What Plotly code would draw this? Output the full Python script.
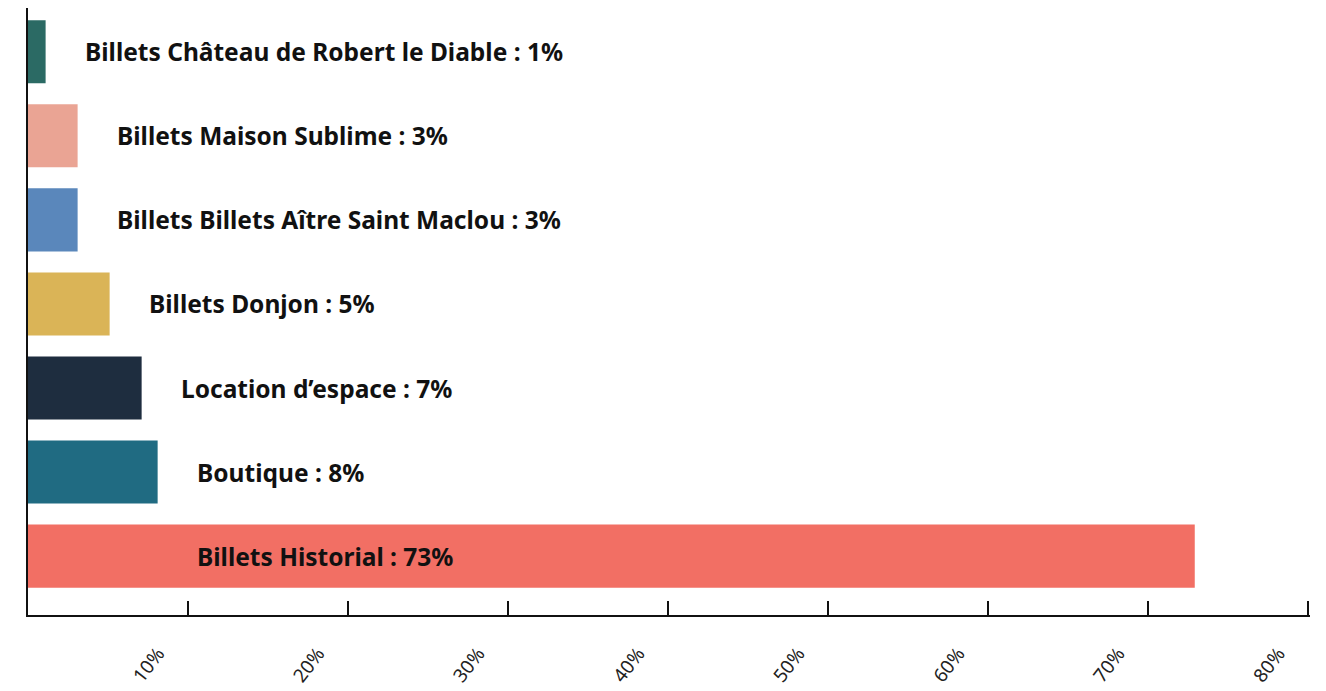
import plotly.graph_objects as go

# ---------------- Data ----------------
categories = [
    "Billets Historial",
    "Boutique",
    "Location d’espace",
    "Billets Donjon",
    "Billets Billets Aître Saint Maclou",
    "Billets Maison Sublime",
    "Billets Château de Robert le Diable",
]
shares = [72.9, 8.1, 7.1, 5.1, 3.1, 3.1, 1.1]
shown = [73, 8, 7, 5, 3, 3, 1]
colors = ["#f26f64", "#206b82", "#1e2d3f", "#dab457", "#5a87bb", "#eaa494", "#2b6a64"]
tick_values = [10, 20, 30, 40, 50, 60, 70, 80]
tick_labels = ["10%", "20%", "30%", "40%", "50%", "60%", "70%", "80%"]

fig = go.Figure(
    go.Bar(
        x=shares,
        y=categories,
        orientation="h",
        marker=dict(color=colors, line=dict(width=0)),
        hoverinfo="skip",
    )
)

# labels sit just past the bar end, capped at the Boutique bar
cap = shares[1]
for cat, v, n in zip(categories, shares, shown):
    fig.add_annotation(
        x=min(v, cap),
        y=cat,
        text=f"<b>{cat} : {n}%</b>",
        showarrow=False,
        xanchor="left",
        xshift=37,
        font=dict(family="Noto Sans", size=24.5, color="#111111"),
    )

# page body has an 8px margin, so the figure is a little smaller
fig.update_layout(
    width=1318,
    height=683,
    margin=dict(l=20, r=16, t=0, b=76),
    plot_bgcolor="white",
    paper_bgcolor="white",
    showlegend=False,
    bargap=0.25,
)

fig.update_xaxes(
    range=[0, 80.1],
    tickvals=tick_values,
    ticktext=tick_labels,
    ticks="inside",
    ticklen=14,
    tickwidth=2,
    tickcolor="#111111",
    showline=True,
    linewidth=2,
    linecolor="#111111",
    showgrid=False,
    zeroline=False,
    automargin=False,
    tickangle=-52,
    ticklabelshift=-30,
    ticklabelstandoff=18,
    tickfont=dict(family="Noto Sans", size=19, color="#222222"),
)

fig.update_yaxes(
    range=[-0.7, 6.52],
    showticklabels=False,
    ticks="",
    showline=True,
    linewidth=2,
    linecolor="#111111",
    showgrid=False,
    zeroline=False,
    automargin=False,
)

fig.write_html("out.html")
